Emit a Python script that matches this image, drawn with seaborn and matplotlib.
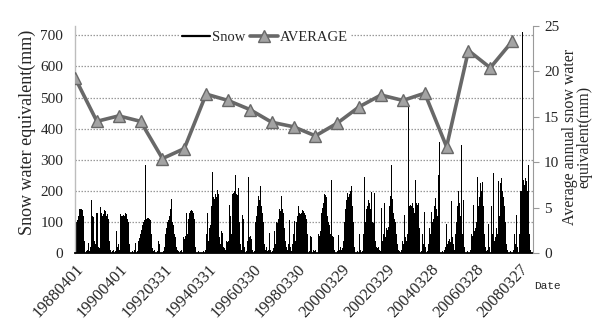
import numpy as np
import pandas as pd
import matplotlib
matplotlib.use("Agg")
import matplotlib.pyplot as plt
import seaborn as sns
from matplotlib.lines import Line2D

# ---------------- data ----------------
# x tick labels (every second yearly tick, 730 days apart from 1988-04-01)
tick_labels = ["19880401", "19900401", "19920331", "19940331", "19960330",
               "19980330", "20000329", "20020329", "20040328", "20060328",
               "20080327"]

# snow water equivalent (mm), one value per ~16.4 days starting 1988-04-01
snow_mm = [
    100, 100, 105, 120, 140, 142, 140, 138, 120, 40, 0, 5, 10, 32, 5, 20, 171, 118, 115, 40,
    30, 130, 128, 20, 15, 147, 130, 120, 125, 139, 136, 120, 125, 110, 40, 10, 0, 5, 10, 0,
    8, 72, 20, 30, 10, 125, 120, 118, 122, 120, 128, 125, 110, 100, 30, 0, 0, 5, 0, 10,
    32, 0, 5, 40, 48, 60, 75, 90, 100, 105, 284, 110, 112, 112, 110, 105, 60, 15, 5, 10,
    0, 0, 5, 37, 30, 0, 0, 0, 5, 20, 60, 80, 100, 105, 120, 140, 173, 100, 90, 60,
    50, 20, 10, 5, 0, 5, 10, 0, 50, 45, 55, 128, 60, 110, 130, 134, 137, 135, 130, 110,
    20, 0, 0, 5, 0, 0, 0, 0, 5, 0, 10, 60, 128, 40, 80, 90, 150, 259, 180, 175,
    190, 180, 204, 190, 50, 30, 70, 65, 20, 15, 10, 40, 35, 40, 155, 120, 60, 190, 193, 200,
    251, 190, 185, 209, 100, 30, 10, 121, 110, 20, 0, 5, 40, 244, 50, 55, 45, 10, 0, 5,
    100, 120, 150, 182, 170, 214, 150, 128, 100, 30, 10, 20, 5, 10, 64, 10, 0, 5, 15, 72,
    30, 100, 95, 110, 140, 135, 182, 140, 130, 80, 40, 20, 10, 30, 105, 20, 5, 30, 60, 102,
    40, 100, 120, 150, 130, 125, 130, 139, 135, 128, 123, 110, 60, 0, 5, 56, 50, 0, 10, 5,
    10, 0, 0, 60, 55, 70, 130, 145, 160, 191, 185, 180, 120, 100, 90, 60, 234, 55, 50, 10,
    0, 0, 5, 57, 10, 20, 10, 15, 40, 100, 140, 170, 193, 180, 190, 200, 216, 150, 100, 20,
    0, 0, 5, 0, 62, 10, 0, 5, 60, 244, 100, 141, 150, 171, 160, 140, 195, 100, 95, 193,
    40, 20, 15, 20, 10, 5, 145, 40, 60, 161, 50, 80, 75, 85, 150, 182, 284, 175, 130, 110,
    100, 60, 30, 10, 5, 0, 10, 40, 30, 123, 50, 40, 60, 473, 150, 155, 150, 160, 145, 130,
    234, 161, 155, 160, 80, 0, 5, 60, 30, 133, 20, 0, 5, 30, 80, 60, 131, 100, 110, 150,
    177, 140, 120, 250, 357, 0, 0, 5, 0, 10, 20, 94, 30, 40, 45, 35, 168, 50, 30, 10,
    60, 100, 150, 198, 160, 120, 347, 60, 171, 20, 0, 0, 5, 0, 0, 10, 60, 55, 155, 70,
    80, 100, 246, 150, 180, 225, 200, 227, 150, 60, 20, 5, 10, 94, 20, 0, 150, 60, 257, 40,
    50, 80, 60, 230, 120, 225, 241, 200, 180, 150, 100, 30, 10, 0, 0, 5, 0, 0, 10, 60,
    30, 123, 20, 0, 60, 198, 200, 710, 236, 220, 240, 230, 200, 284, 60, 10, 0,
]

# average annual snow water equivalent (mm), 21 yearly points
average_mm = [19.3, 14.5, 15.1, 14.5, 10.4, 11.5, 17.5, 16.8, 15.8, 14.4, 13.9,
              12.9, 14.3, 16.1, 17.4, 16.8, 17.6, 11.7, 22.3, 20.4, 23.3]

# ---------------- style ----------------
sns.set_style("white")
plt.rcParams["font.family"] = ["Liberation Serif", "DejaVu Serif"]

STEP = 365.25 / 22.25          # days per sample
AVG_STEP = 358.8               # spacing of the average markers (days)
days = np.arange(len(snow_mm)) * STEP
avg_days = np.arange(len(average_mm)) * AVG_STEP

df_snow = pd.DataFrame({"day": days + STEP / 2, "snow": snow_mm})
df_avg = pd.DataFrame({"day": avg_days, "avg": average_mm})

W, H = 595, 329
fig = plt.figure(figsize=(W / 100, H / 100), dpi=100)
ax = fig.add_axes([75 / W, 1 - 253 / H, (533 - 75) / W, (253 - 26) / H])

# grid
for v in range(100, 800, 100):
    ax.axhline(v, color="#9a9a9a", lw=0.9, ls=(0, (1.2, 1.2)), zorder=0)

ax.bar(df_snow["day"], df_snow["snow"], width=STEP * 1.1, align="center",
       color="black", linewidth=0, zorder=2)

ax.set_xlim(0, (533 - 75) * STEP)
ax.set_ylim(0, 730)
ax.set_yticks(range(0, 800, 100))
ax.tick_params(axis="y", length=0, pad=8.5, labelsize=11)

tick_pos = np.arange(0, 21) * 365.0
ax.set_xticks(tick_pos)
ax.set_xticklabels([tick_labels[i // 2] if i % 2 == 0 else "" for i in range(21)],
                   rotation=47, ha="right", va="top", rotation_mode="anchor",
                   fontsize=12)
ax.tick_params(axis="x", length=4, width=1, color="black", pad=2, direction="out")

for s in ["top", "right"]:
    ax.spines[s].set_visible(False)
ax.spines["left"].set_color("#bdbdbd")
ax.spines["left"].set_linewidth(1.0)
ax.spines["bottom"].set_color("black")
ax.spines["bottom"].set_linewidth(1.3)

# secondary axis with the average
ax2 = ax.twinx()
sns.lineplot(data=df_avg, x="day", y="avg", ax=ax2, color="#686868", lw=2.6,
             marker="^", markersize=8, markerfacecolor="#a3a3a3",
             markeredgecolor="#686868", markeredgewidth=1.0, zorder=5)
ax2.set_ylim(0, 25)
ax2.set_yticks(range(0, 30, 5))
ax2.set_ylabel("")
ax2.set_xlabel("")
ax.set_xlabel("")
ax.set_ylabel("")
ax2.tick_params(axis="y", length=4, color="#9a9a9a", pad=4, labelsize=11)
for s in ["top", "left", "bottom"]:
    ax2.spines[s].set_visible(False)
ax2.spines["right"].set_color("#9a9a9a")
ax2.set_xlim(0, (533 - 75) * STEP)

# legend
handles = [Line2D([0], [0], color="black", lw=1.6),
           Line2D([0], [0], color="#686868", lw=2.6, marker="^", markersize=8,
                  markerfacecolor="#a3a3a3", markeredgecolor="#686868")]
leg = ax2.legend(handles, ["Snow", "AVERAGE"], loc="center",
                 bbox_to_anchor=(0.415, 0.95), ncol=2, frameon=True,
                 fontsize=10.5, handlelength=1.9, handletextpad=0.15,
                 columnspacing=0.35, borderpad=0.2)
leg.get_frame().set_facecolor("white")
leg.get_frame().set_edgecolor("none")
leg.get_frame().set_alpha(1)

# labels
fig.text(27 / W, 1 - 132 / H, "Snow water equivalent(mm)", rotation=90,
         ha="center", va="center", fontsize=13)
fig.text(577 / W, 1 - 137 / H, "Average annual snow water\nequivalent(mm)",
         rotation=90, ha="center", va="center", fontsize=11.5,
         multialignment="center", linespacing=0.9)
fig.text(547 / W, 1 - 286 / H, "Date", ha="center", va="center", fontsize=8,
         family=["Liberation Mono", "DejaVu Sans Mono"])

fig.savefig("out.png", dpi=100)
